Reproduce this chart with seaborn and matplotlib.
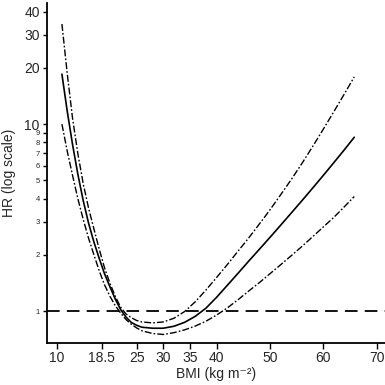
import numpy as np
import pandas as pd
import seaborn as sns
import matplotlib
matplotlib.use("Agg")
import matplotlib.pyplot as plt

# BMI grid (kg m^-2)
bmi = [11, 12, 13, 14, 15, 16, 17, 18, 19, 20, 21, 22, 23, 24, 25, 26, 28, 30,
       32, 34, 36, 38, 40, 42, 44, 46, 48, 50, 52, 54, 56, 58, 60, 62, 64, 65.8]

# hazard ratio estimate (solid line)
hr = [18.5, 11.7, 7.76, 5.37, 3.89, 2.95, 2.34, 1.91, 1.58, 1.35, 1.16, 1.02, 0.93,
      0.87, 0.84, 0.82, 0.81, 0.81, 0.830, 0.871, 0.938, 1.037, 1.186, 1.374, 1.592,
      1.849, 2.14, 2.48, 2.88, 3.35, 3.90, 4.55, 5.32, 6.24, 7.33, 8.51]

# upper 95% CI
hr_upper = [34.3, 18.6, 10.7, 6.92, 4.79, 3.55, 2.75, 2.14, 1.70, 1.41, 1.20, 1.05,
            0.966, 0.923, 0.891, 0.875, 0.865, 0.875, 0.916, 0.995, 1.122, 1.297, 1.514,
            1.774, 2.09, 2.46, 2.92, 3.48, 4.19, 5.06, 6.17, 7.59, 9.40, 11.7, 14.6, 17.9]

# lower 95% CI
hr_lower = [10.0, 7.16, 5.31, 3.98, 3.09, 2.45, 2.0, 1.64, 1.38, 1.20, 1.07, 0.977,
            0.902, 0.851, 0.813, 0.785, 0.759, 0.750, 0.767, 0.794, 0.832, 0.883,
            0.953, 1.04, 1.15, 1.28, 1.42, 1.585, 1.77, 1.98, 2.22, 2.50, 2.82, 3.18,
            3.63, 4.10]

x_ticks = [10, 18.5, 25, 30, 35, 40, 50, 60, 70]
x_ticklabels = ["10", "18.5", "25", "30", "35", "40", "50", "60", "70"]
y_ticks = [1, 2, 3, 4, 5, 6, 7, 8, 9, 10, 20, 30, 40]
y_ticklabels = ["1", "2", "3", "4", "5", "6", "7", "8", "9", "10", "20", "30", "40"]

sns.set_style("white")
plt.rcParams['font.family'] = ['Liberation Sans', 'DejaVu Sans']

df = pd.DataFrame({"BMI": bmi, "HR": hr, "upper": hr_upper, "lower": hr_lower})

fig = plt.figure(figsize=(3.85, 3.85), dpi=100)
ax = fig.add_axes([0.121, 0.109, 0.879, 0.883])

dashdot = (0, (5, 1.5, 1.2, 1.5))
sns.lineplot(data=df, x="BMI", y="HR", color="black", lw=1.2, ax=ax)
sns.lineplot(data=df, x="BMI", y="upper", color="black", lw=1.0, ax=ax, linestyle=dashdot)
sns.lineplot(data=df, x="BMI", y="lower", color="black", lw=1.0, ax=ax, linestyle=dashdot)
ax.axhline(1, color="black", lw=1.3, linestyle=(0, (7, 4)))

ax.set_yscale("log")
ax.set_xlim(8.125, 71.56)
ax.set_ylim(0.675, 44.4)

ax.set_xticks(x_ticks)
ax.set_xticklabels(x_ticklabels, fontsize=10)
ax.set_yticks(y_ticks)
ax.set_yticklabels(y_ticklabels)
ax.yaxis.set_minor_locator(matplotlib.ticker.NullLocator())
for lab in ax.get_yticklabels():
    if lab.get_text() in ("10", "20", "30", "40"):
        lab.set_fontsize(10)
    else:
        lab.set_fontsize(5.5)

ax.tick_params(axis="both", which="major", direction="out", length=4, width=1,
               color="black", pad=2, bottom=True, left=True)
ax.tick_params(axis="y", length=3)

for side in ["top", "right"]:
    ax.spines[side].set_visible(False)
for side in ["left", "bottom"]:
    ax.spines[side].set_color("black")
    ax.spines[side].set_linewidth(1.3)

ax.set_xlabel("BMI (kg m⁻²)", fontsize=10, labelpad=1)
ax.set_ylabel("HR (log scale)", fontsize=10, labelpad=6)

fig.savefig("out.png", dpi=100)
